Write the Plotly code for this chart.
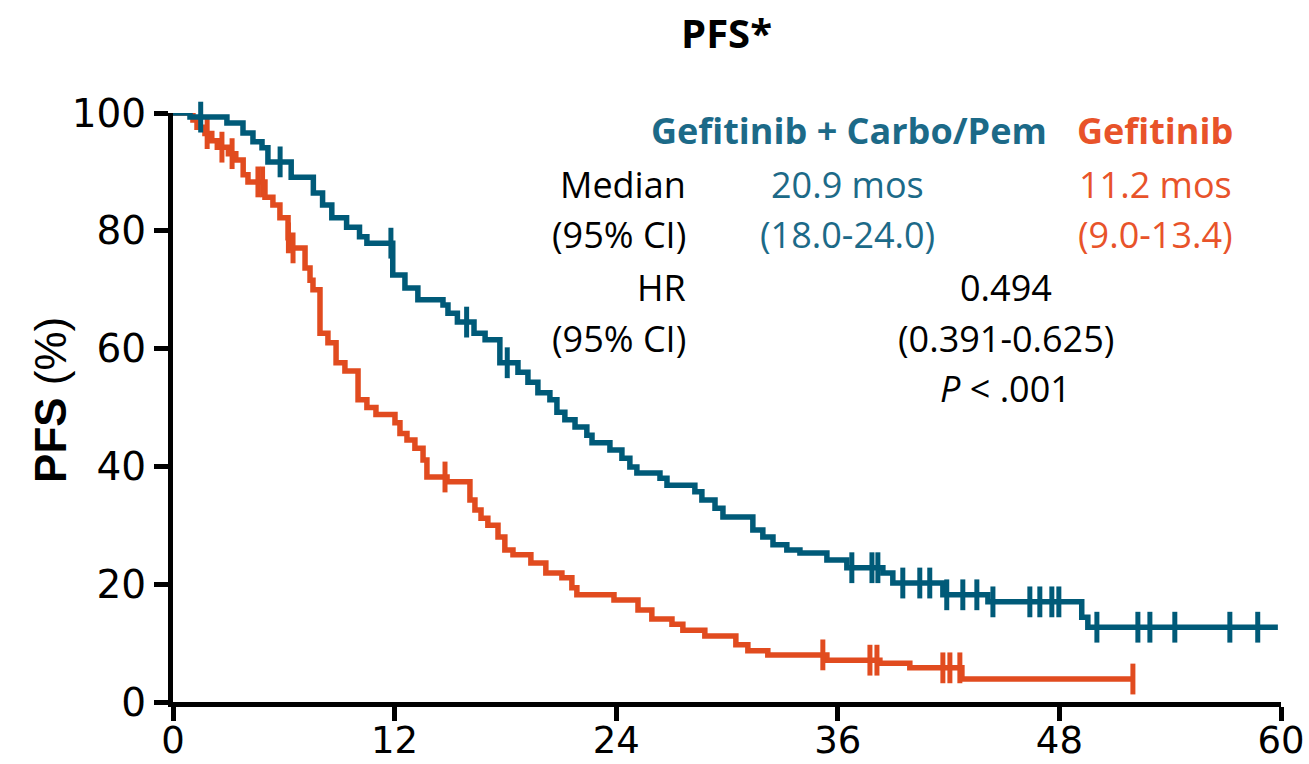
import numpy as np
import plotly.graph_objects as go

# Kaplan-Meier step data (months, % progression-free)
combo_times = [0, 0.92, 2.92, 3.79, 4.33, 4.82, 5.14, 6.4, 7.6, 8.1, 8.6, 9.4, 10.1, 10.5,
               11.9, 12.56, 13.26, 14.62, 14.89, 15.4, 16.3, 16.9, 17.7, 18.68, 19.22, 19.76,
               20.41, 20.79, 21.22, 21.77, 22.41, 22.69, 23.66, 24.31, 24.74, 25.12, 26.37,
               26.75, 28.26, 28.64, 29.35, 29.78, 31.4, 31.94, 32.49, 33.24, 33.95, 35.41,
               36.49, 38.44, 38.98, 41.69, 44.13, 49.21, 49.54, 59.83]
combo_surv = [100, 99.3, 98.3, 96.6, 95.1, 94.1, 91.7, 89.1, 86.4, 84.4, 82.2, 80.6, 79.0, 77.9,
              72.5, 70.3, 68.3, 67.4, 66.0, 64.5, 62.6, 61.5, 57.6, 56.0, 54.3, 52.5,
              51.3, 49.2, 47.9, 46.7, 45.3, 44.0, 42.8, 41.4, 39.9, 38.9, 38.0,
              36.8, 35.7, 34.3, 32.9, 31.4, 29.2, 28.0, 26.7, 25.8, 25.3, 24.1,
              22.8, 21.9, 20.2, 18.2, 17.0, 14.4, 12.7, 12.7]
combo_censor = [1.5, 5.8, 11.8, 15.9, 18.1, 36.76, 37.85, 38.17, 39.52, 40.44, 40.98, 41.9,
                42.77, 43.53, 44.4, 46.4, 46.94, 47.59, 47.97, 50.03, 52.25, 52.9, 54.25,
                57.23, 58.74]

gef_times = [0, 1.08, 1.3, 1.73, 2.1, 2.4, 3.0, 3.4, 3.8, 4.06, 4.98, 5.41, 5.79, 6.23,
             6.33, 7.15, 7.42, 7.58, 7.96, 8.39, 8.83, 9.31, 10.02, 10.5, 10.99, 12.02,
             12.29, 12.67, 13.1, 13.54, 13.75, 14.84, 16.08, 16.35, 16.68, 17.05, 17.6,
             17.97, 18.41, 19.38, 20.19, 21.06, 21.6, 21.87, 23.88, 25.18, 25.93, 27.02,
             27.61, 28.8, 30.48, 31.13, 32.21, 35.41, 38.28, 39.9, 42.72, 51.98]
gef_surv = [100, 98.8, 97.6, 96.5, 95.3, 94.2, 93.1, 92.0, 89.5, 88.3, 85.7, 84.4, 82.2, 78.8,
            77.1, 73.7, 71.6, 70.0, 62.6, 61.0, 57.6, 56.2, 51.3, 50.0, 48.8, 47.4,
            45.6, 44.5, 43.1, 41.1, 38.2, 37.4, 34.3, 32.6, 31.2, 30.0, 28.0,
            25.8, 25.0, 23.6, 21.9, 21.1, 19.4, 18.2, 17.3, 15.6, 14.1, 13.2,
            12.2, 11.2, 9.7, 8.7, 8.0, 7.1, 6.6, 5.8, 3.9, 3.9]
gef_censor = [1.85, 2.65, 3.2, 4.6, 4.85, 6.25, 6.5, 14.73, 35.19, 37.74, 38.12,
              41.69, 42.07, 42.61, 51.98]

x_ticks = [0, 12, 24, 36, 48, 60]
y_ticks = [0, 20, 40, 60, 80, 100]

BLUE = "#005A78"
ORANGE = "#E14B1F"
TEXT_BLUE = "#1C6A88"
TEXT_ORANGE = "#E8532A"


def at_time(times, surv, when):
    idx = np.searchsorted(np.asarray(times), np.asarray(when), side="right") - 1
    return np.asarray(surv)[idx]


fig = go.Figure()

for times, surv, cens, color, name in [
    (gef_times, gef_surv, gef_censor, ORANGE, "Gefitinib"),
    (combo_times, combo_surv, combo_censor, BLUE, "Gefitinib + Carbo/Pem"),
]:
    fig.add_trace(go.Scatter(
        x=times, y=surv, mode="lines", name=name,
        line=dict(color=color, width=5.5, shape="hv"),
        cliponaxis=False, showlegend=False, hoverinfo="skip",
    ))
    fig.add_trace(go.Scatter(
        x=cens, y=at_time(times, surv, cens), mode="markers", name=name + " censored",
        marker=dict(symbol="line-ns", size=22, line=dict(color=color, width=5)),
        cliponaxis=False, showlegend=False, hoverinfo="skip",
    ))

ann_font = "Open Sans, Noto Sans, sans-serif"
FS = 36


def note(x, y, text, color="black", anchor="center", bold=False):
    fig.add_annotation(
        x=x, y=y, xref="x", yref="y", text=f"<b>{text}</b>" if bold else text,
        showarrow=False, xanchor=anchor, yanchor="middle",
        font=dict(family=ann_font, size=FS, color=color),
    )


note(36.6, 97.1, "Gefitinib + Carbo/Pem", TEXT_BLUE, bold=True)
note(53.2, 97.1, "Gefitinib", TEXT_ORANGE, bold=True)
note(27.9, 87.8, "Median", anchor="right")
note(27.9, 79.3, "(95% CI)", anchor="right")
note(27.9, 70.3, "HR", anchor="right")
note(27.9, 61.8, "(95% CI)", anchor="right")
note(36.5, 87.8, "20.9 mos", TEXT_BLUE)
note(36.5, 79.3, "(18.0-24.0)", TEXT_BLUE)
note(53.2, 87.8, "11.2 mos", TEXT_ORANGE)
note(53.2, 79.3, "(9.0-13.4)", TEXT_ORANGE)
note(45.1, 70.3, "0.494")
note(45.1, 61.8, "(0.391-0.625)")
note(45.1, 53.3, "<i>P</i> < .001")

# Axis title
fig.add_annotation(
    x=-0.11, y=0.513, xref="paper", yref="paper", text="<b>PFS</b> (%)",
    textangle=-90, showarrow=False, xanchor="center", yanchor="middle",
    font=dict(family="Liberation Sans, Arial, sans-serif", size=44, color="black"),
)

fig.update_layout(
    width=1309, height=764,
    margin=dict(l=173, r=28, t=113, b=62),
    paper_bgcolor="white", plot_bgcolor="white",
    title=dict(text="<b>PFS*</b>", x=0.555, xanchor="center", y=0.955, yanchor="middle",
               font=dict(family=ann_font, size=40, color="black")),
    font=dict(family="DejaVu Sans, Verdana, sans-serif", size=39, color="black"),
)
fig.update_xaxes(
    range=[0, 60], tickvals=x_ticks, showgrid=False, zeroline=False, automargin=False,
    showline=True, linecolor="black", linewidth=5,
    ticks="outside", ticklen=14, tickwidth=5, tickcolor="black",
    tickfont=dict(size=37), ticklabelstandoff=-12,
)
fig.update_yaxes(
    range=[0, 100], tickvals=y_ticks, showgrid=False, zeroline=False, automargin=False,
    showline=True, linecolor="black", linewidth=5,
    ticks="outside", ticklen=14, tickwidth=5, tickcolor="black",
    tickfont=dict(size=39),
)

fig.write_html("out.html")
